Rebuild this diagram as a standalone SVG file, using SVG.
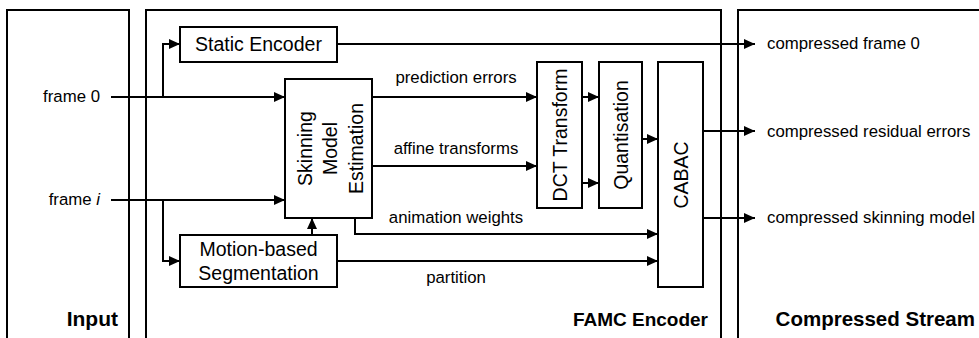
<svg xmlns="http://www.w3.org/2000/svg" width="979" height="338" viewBox="0 0 979 338">
<style>
.box{fill:#fff;stroke:#000;stroke-width:2}
.frame{fill:none;stroke:#000;stroke-width:2}
.c{fill:none;stroke:#000;stroke-width:2}
.lbl{font-family:"Liberation Sans",Arial,sans-serif;font-size:16.8px;fill:#000}
.nt{font-family:"Liberation Sans",Arial,sans-serif;font-size:19.5px;fill:#000;text-anchor:middle}
.ttl{font-family:"Liberation Sans",Arial,sans-serif;font-size:19px;font-weight:bold;fill:#000;text-anchor:end}
</style>
<defs>
<marker id="ah" markerUnits="userSpaceOnUse" markerWidth="12" markerHeight="10" refX="11" refY="5" orient="auto">
<path d="M0,0 L11,5 L0,10 Z" fill="#000"/>
</marker>
</defs>
<rect width="979" height="338" fill="#fff"/>
<g id="input">
<rect class="frame" x="7" y="10" width="122" height="340"/>
<text class="ttl" x="118" y="326" style="font-size:21px">Input</text>
<text class="lbl" x="100" y="102" text-anchor="end">frame 0</text>
<text class="lbl" x="100" y="205" text-anchor="end">frame <tspan font-style="italic">i</tspan></text>
</g>
<g id="famc">
<rect class="frame" x="146" y="10" width="575" height="340"/>
<text class="ttl" x="708" y="326">FAMC Encoder</text>
</g>
<g id="stream">
<rect class="frame" x="738" y="10" width="260" height="340"/>
<text class="ttl" x="975" y="326" style="font-size:20.5px">Compressed Stream</text>
<text class="lbl" x="767" y="49">compressed frame 0</text>
<text class="lbl" x="767" y="137">compressed residual errors</text>
<text class="lbl" x="767" y="223">compressed skinning model</text>
</g>
<g id="connectors">
<path class="c" d="M111,97 H285" marker-end="url(#ah)"/>
<path class="c" d="M163,97 V44 H180" marker-end="url(#ah)"/>
<path class="c" d="M111,200 H285" marker-end="url(#ah)"/>
<path class="c" d="M163,200 V261 H180" marker-end="url(#ah)"/>
<path class="c" d="M312,235 V218" marker-end="url(#ah)"/>
<path class="c" d="M372,97 H537" marker-end="url(#ah)"/>
<path class="c" d="M372,166 H537" marker-end="url(#ah)"/>
<path class="c" d="M582,97 H599" marker-end="url(#ah)"/>
<path class="c" d="M582,183 H599" marker-end="url(#ah)"/>
<path class="c" d="M642,139 H658" marker-end="url(#ah)"/>
<path class="c" d="M355,218 V234 H658" marker-end="url(#ah)"/>
<path class="c" d="M337,261 H658" marker-end="url(#ah)"/>
<path class="c" d="M337,44 H755" marker-end="url(#ah)"/>
<path class="c" d="M703,131 H755" marker-end="url(#ah)"/>
<path class="c" d="M703,218 H755" marker-end="url(#ah)"/>
<text class="lbl" x="456" y="83" text-anchor="middle">prediction errors</text>
<text class="lbl" x="456" y="154" text-anchor="middle">affine transforms</text>
<text class="lbl" x="456" y="223" text-anchor="middle">animation weights</text>
<text class="lbl" x="456" y="283" text-anchor="middle">partition</text>
</g>
<g id="static-encoder">
<rect class="box" x="180" y="27" width="157" height="35"/>
<text class="nt" x="258.5" y="51">Static Encoder</text>
</g>
<g id="skinning">
<rect class="box" x="285" y="79" width="87" height="139"/>
<text class="nt" transform="translate(305,148.5) rotate(-90)" x="0" y="7">Skinning</text>
<text class="nt" transform="translate(330,148.5) rotate(-90)" x="0" y="7">Model</text>
<text class="nt" transform="translate(356,148.5) rotate(-90)" x="0" y="7">Estimation</text>
</g>
<g id="motion">
<rect class="box" x="180" y="235" width="157" height="52"/>
<text class="nt" x="258.5" y="256">Motion-based</text>
<text class="nt" x="258.5" y="280">Segmentation</text>
</g>
<g id="dct">
<rect class="box" x="537" y="62" width="45" height="146"/>
<text class="nt" transform="translate(559.5,135) rotate(-90)" x="0" y="7">DCT Transform</text>
</g>
<g id="quant">
<rect class="box" x="599" y="62" width="43" height="146"/>
<text class="nt" transform="translate(620.5,135) rotate(-90)" x="0" y="7">Quantisation</text>
</g>
<g id="cabac">
<rect class="box" x="658" y="62" width="45" height="225"/>
<text class="nt" transform="translate(680.5,175) rotate(-90)" x="0" y="7">CABAC</text>
</g>
</svg>
